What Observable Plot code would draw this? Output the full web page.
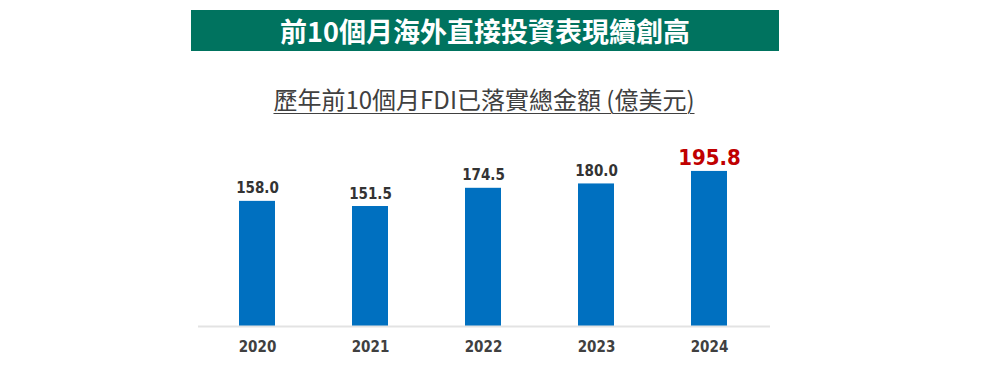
<!DOCTYPE html>
<html>
<head>
<meta charset="utf-8">
<script src="https://cdn.jsdelivr.net/npm/d3@7"></script>
<script src="https://cdn.jsdelivr.net/npm/@observablehq/plot@0.6"></script>
<style>
  html, body { margin: 0; padding: 0; background: #fff; width: 1000px; height: 372px; overflow: hidden; }
  #banner { position: absolute; left: 191px; top: 10px; width: 588px; height: 41px; background: #00735F;
    color: #fff; font-family: "Noto Sans CJK TC", sans-serif; font-weight: bold; font-size: 27px;
    line-height: 41px; text-align: center; }
  #sub { position: absolute; left: 0; top: 81px; width: 968px; text-align: center;
    font-family: "Noto Sans CJK TC", sans-serif; font-size: 24px; color: #404040; line-height: 36px;
    text-decoration: underline; text-decoration-thickness: 1px; text-underline-offset: 4px; }
  #chart { position: absolute; left: 0; top: 120px; }
</style>
</head>
<body>
<div id="banner">前10個月海外直接投資表現續創高</div>
<div id="sub">歷年前10個月FDI已落實總金額 (億美元)</div>
<div id="chart"></div>
<script>
const years = ["2020", "2021", "2022", "2023", "2024"];
const values = [158.0, 151.5, 174.5, 180.0, 195.8];
const labelColors = ["#333333", "#333333", "#333333", "#333333", "#C00000"];
const labelSizes = [15, 15, 15, 15, 22];

const data = years.map((y, i) => ({year: y, value: values[i], color: labelColors[i], size: labelSizes[i]}));

const chart = Plot.plot({
  width: 1000,
  height: 252,
  marginTop: 8,
  marginBottom: 46,
  marginLeft: 199,
  marginRight: 232,
  style: {fontFamily: "DejaVu Sans Condensed, DejaVu Sans, sans-serif", background: "transparent"},
  x: {domain: years, paddingInner: 0.68, paddingOuter: 0.34, label: null},
  y: {domain: [0, 250], axis: null},
  marks: [
    Plot.barY(data, {x: "year", y: "value", fill: "#0070C0"}),
    Plot.ruleY([0], {stroke: "#E3E3E3", strokeWidth: 2, insetLeft: -1, insetRight: -2}),
    Plot.text(data.filter(d => d.size === 15), {x: "year", y: "value", text: d => d.value.toFixed(1),
      fill: "color", fontSize: 15, fontWeight: "bold", lineAnchor: "bottom", dy: -8}),
    Plot.text(data.filter(d => d.size === 22), {x: "year", y: "value", text: d => d.value.toFixed(1),
      fill: "color", fontSize: 22, fontWeight: "bold", lineAnchor: "bottom", dy: -6}),
    Plot.axisX({tickSize: 0, tickPadding: 15, fontSize: 15, fontWeight: "bold", color: "#404040", label: null})
  ]
});
document.getElementById("chart").appendChild(chart);
</script>
</body>
</html>
